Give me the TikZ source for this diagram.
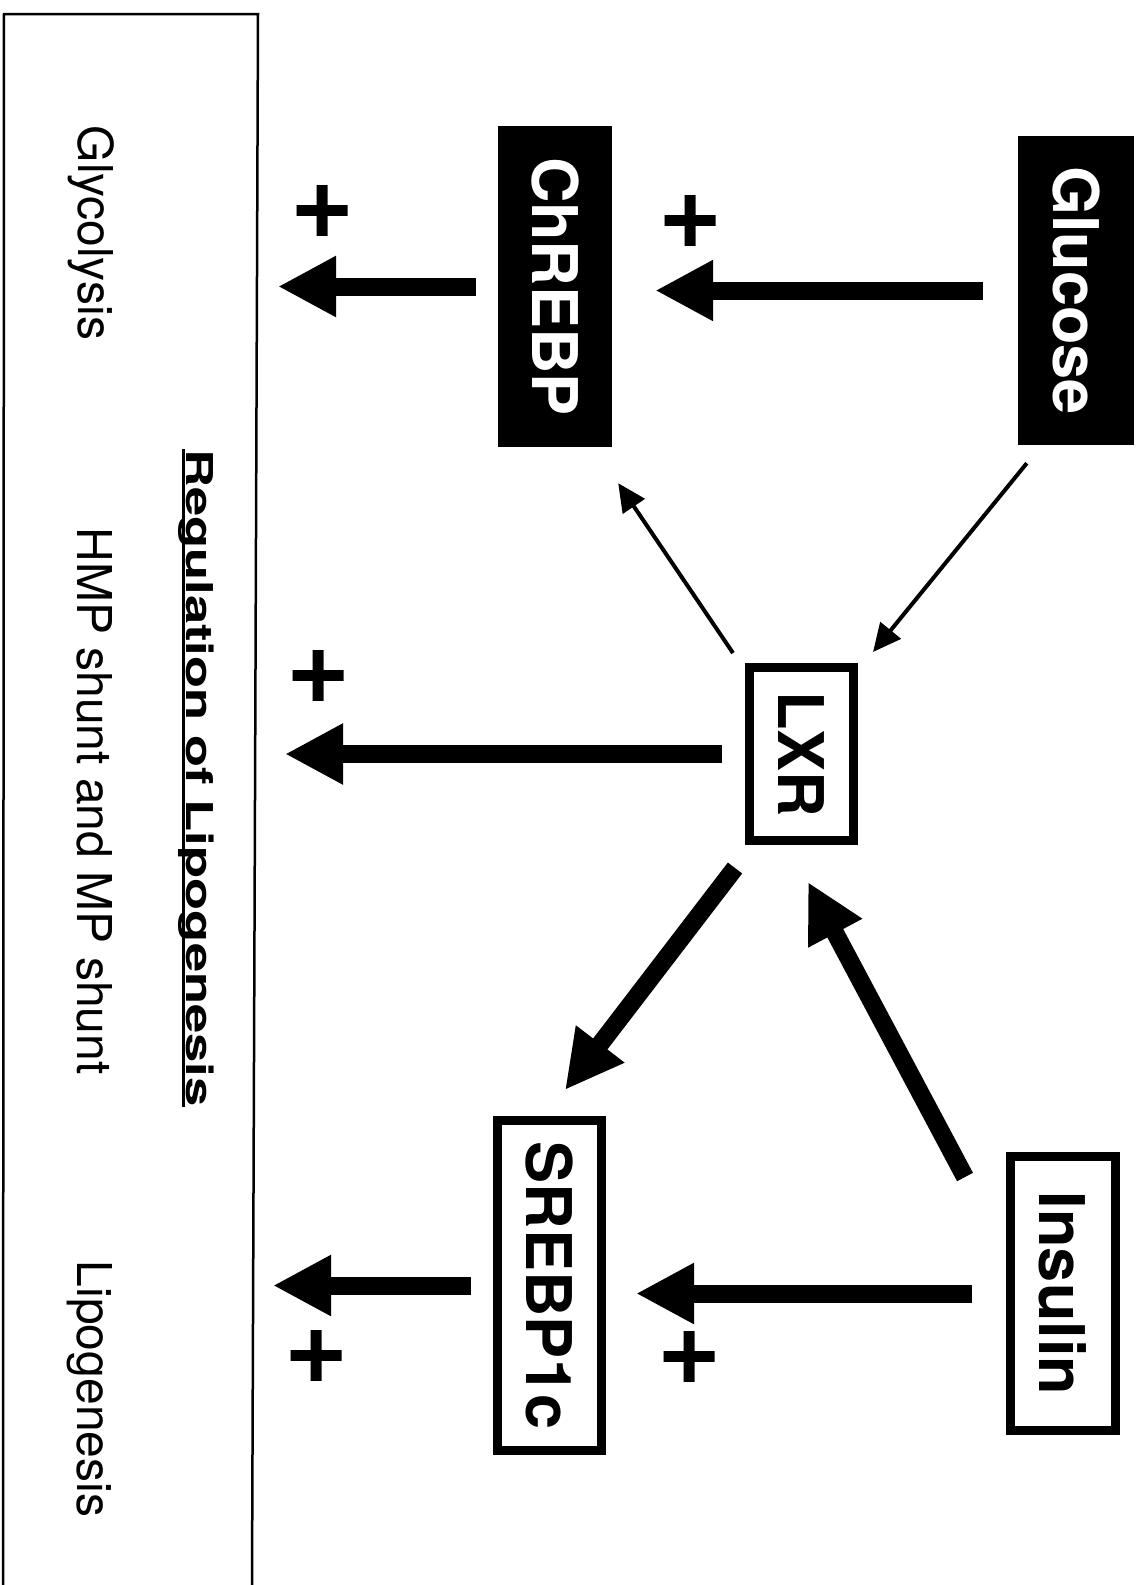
\documentclass[tikz,border=0pt]{standalone}
\usepackage{fontspec}
\setmainfont{TeX Gyre Heros}
\usetikzlibrary{arrows.meta}
\begin{document}
\begin{tikzpicture}[x=1pt,y=-1pt,
  darkbox/.style={fill=black, text=white, inner sep=0pt,
    font=\fontsize{63}{70}\selectfont\bfseries},
  lightbox/.style={draw, line width=9pt, inner sep=0pt,
    font=\fontsize{63}{70}\selectfont\bfseries},
  paneltext/.style={rotate=-90, anchor=base, inner sep=0pt,
    font=\fontsize{48}{56}\selectfont},
  headline/.style={rotate=-90, anchor=base, inner sep=0pt,
    font=\fontsize{37}{42}\selectfont\bfseries},
  plussign/.style={inner sep=0pt, font=\fontsize{110}{110}\selectfont\bfseries},
  bigarrow/.style={line width=18pt, -{Triangle[width=57pt,length=58pt]}},
  thinarrow/.style={line width=4pt, -{Triangle[width=26pt,length=28pt]}},
  frame/.style={line width=2.5pt}
]
\useasboundingbox (0,0) rectangle (1143,1585);

% left panel with the three pathways
\draw[frame] (3,1585) -- (4,14) -- (258,14) -- (252,1585);
\coordinate (edge) at (258,0);

\node[paneltext] (glyc) at (78,233) {Glycolysis};
\node[paneltext] (hmp)  at (77,801) {HMP shunt and MP shunt};
\node[paneltext] (lipo) at (77,1389) {Lipogenesis};
\node[headline] (title) at (186,778) {\scalebox{1.42}[1]{Regulation of Lipogenesis}};
\draw[line width=3pt] ([xshift=-3pt]title.base west) -- ([xshift=-3pt]title.base east);

% regulators
\node[darkbox, minimum width=116pt, minimum height=309pt] (glucose) at (1076,290.5) {\rotatebox{-90}{Glucose}};
\node[darkbox, minimum width=114pt, minimum height=321pt] (chrebp) at (555,286.5) {\rotatebox{-90}{ChREBP}};
\node[lightbox, minimum width=104pt, minimum height=173pt] (lxr) at (801.5,754) {\rotatebox{-90}{LXR}};
\node[lightbox, minimum width=105pt, minimum height=274pt] (insulin) at (1063,1293.5) {\rotatebox{-90}{Insulin}};
\node[lightbox, minimum width=104pt, minimum height=330pt] (srebp) at (549.5,1285.5) {\rotatebox{-90}{SREBP1c}};

% horizontal activations
\draw[bigarrow, shorten <=35pt, shorten >=43pt] (glucose.west) -- (glucose.west -| chrebp.east);
\draw[bigarrow, shorten <=22pt, shorten >=20pt] (chrebp.west) -- (chrebp.west -| edge);
\draw[bigarrow, shorten <=23pt, shorten >=27pt] (lxr.west) -- (lxr.west -| edge);
\draw[bigarrow, shorten <=34pt, shorten >=30pt] (insulin.west) -- (insulin.west -| srebp.east);
\draw[bigarrow, shorten <=22pt, shorten >=15pt] (srebp.west) -- (srebp.west -| edge);

% diagonal links through LXR
\draw[bigarrow] ([shift={(-10,23)}]lxr.south west) -- ([shift={(-41,-26)}]srebp.north east);
\draw[bigarrow] ([shift={(-41,25)}]insulin.north west) -- ([shift={(-50,37)}]lxr.south east);
\draw[thinarrow] ([shift={(9,18)}]glucose.south west) -- ([shift={(15,-11)}]lxr.north east);
\draw[thinarrow] ([shift={(-12,-10)}]lxr.north west) -- ([shift={(6,36)}]chrebp.south east);

% plus signs
\node[plussign] (p1) at (691,222) {+};
\node[plussign] (p2) at (323,212) {+};
\node[plussign] (p3) at (319,677) {+};
\node[plussign] (p4) at (690,1358) {+};
\node[plussign] (p5) at (317,1357) {+};
\end{tikzpicture}
\end{document}
